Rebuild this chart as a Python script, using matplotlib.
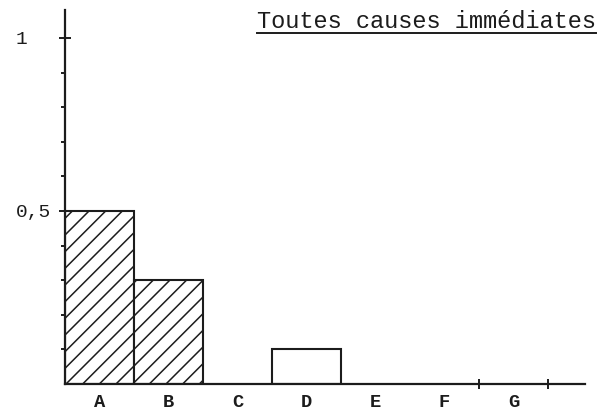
import matplotlib
matplotlib.use("Agg")
import matplotlib.pyplot as plt
import numpy as np

# Data
categories = ["A", "B", "C", "D", "E", "F", "G"]
values = [0.5, 0.3, 0.0, 0.1, 0.0, 0.0, 0.0]
hatched = [True, True, False, False, False, False, False]
ytick_values = [0.5, 1.0]
ytick_labels = ["0,5", "1"]
title = "Toutes causes immédiates"

ink = "#1c1c1c"
font = "Liberation Mono"
plt.rcParams["hatch.linewidth"] = 1.1
plt.rcParams["hatch.color"] = ink

fig = plt.figure(figsize=(6.08, 4.16), dpi=100)
W, H = 608, 416
ax = fig.add_axes([65 / W, (H - 384) / H, 520 / W, 374 / H])

x = np.arange(len(categories))
for xi, v, h in zip(x, values, hatched):
    if v <= 0:
        continue
    ax.bar(xi, v, width=1.0, align="edge", facecolor="white",
           edgecolor=ink, linewidth=1.5, hatch="//" if h else None, zorder=2)

ax.set_xlim(0, 520 / 69)
ax.set_ylim(0, 374 / 346)

for side in ("top", "right"):
    ax.spines[side].set_visible(False)
for side in ("left", "bottom"):
    ax.spines[side].set_color(ink)
    ax.spines[side].set_linewidth(1.6)
    ax.spines[side].set_zorder(3)

# x axis: category labels centred in each slot, small ticks at the last slots
ax.set_xticks(x + 0.5)
ax.set_xticklabels(categories, fontfamily=font, fontsize=13.5, color=ink,
                   fontweight="bold")
ax.tick_params(axis="x", length=0, pad=7)
ax.set_xticks([6, 7], minor=True)
ax.tick_params(axis="x", which="minor", direction="inout", length=7,
               width=1.4, color=ink)

# y axis: labelled ticks at 0.5 and 1, minor ticks every 0.1
ax.set_yticks(ytick_values)
ax.set_yticklabels(ytick_labels, fontfamily=font, fontsize=14, color=ink)
ax.tick_params(axis="y", direction="inout", length=8, width=1.4, color=ink,
               pad=31.5)
for lbl in ax.get_yticklabels():
    lbl.set_horizontalalignment("left")
ax.set_yticks([0.1, 0.2, 0.3, 0.4, 0.6, 0.7, 0.8, 0.9], minor=True)
ax.tick_params(axis="y", which="minor", direction="out", length=3,
               width=1.4, color=ink)

# underlined title in the upper right
t = fig.text(257 / W, 1 - 21 / H, title, fontfamily=font, fontsize=17,
             color=ink, ha="left", va="center")
fig.canvas.draw()
bb = t.get_window_extent()
fig.add_artist(plt.Line2D([bb.x0 / W, bb.x1 / W], [1 - 33 / H, 1 - 33 / H],
                          transform=fig.transFigure, color=ink, lw=1.4))

fig.savefig("out.png", dpi=100)
